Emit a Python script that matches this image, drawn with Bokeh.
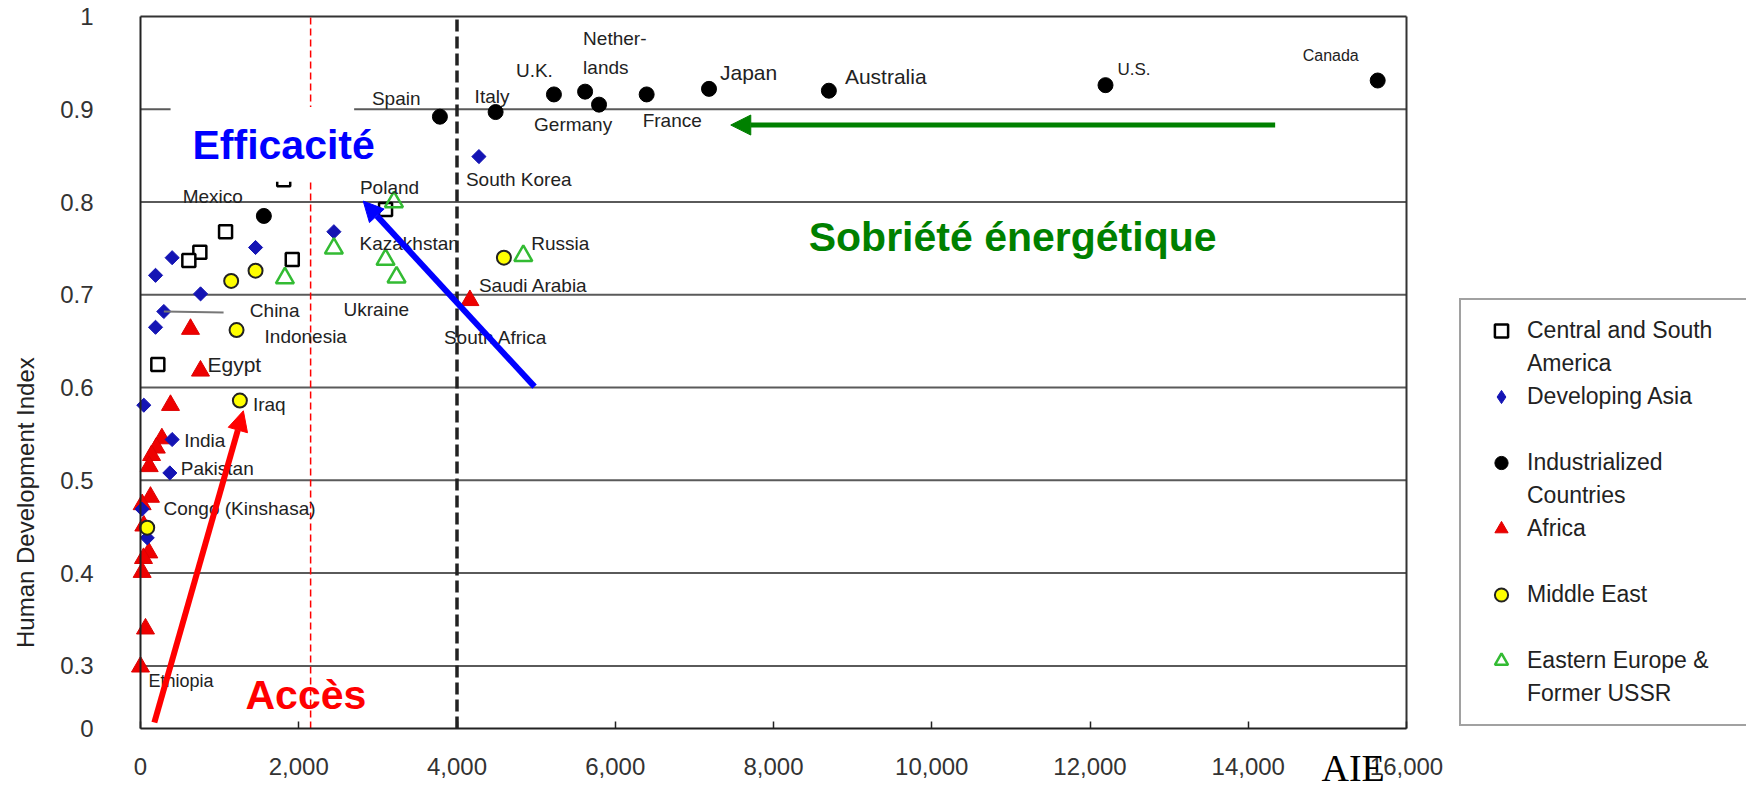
import numpy as np
from bokeh.plotting import figure
from bokeh.models import (ColumnDataSource, Arrow, NormalHead, Label, BoxAnnotation,
                          Legend, LegendItem, FixedTicker, Range1d)
from bokeh.embed import file_html
from bokeh.resources import INLINE
from bokeh.core.properties import value

# ---------------- data (x: energy per capita, y: Human Development Index) ----------------
csa_x = [1810, 1075, 750, 611, 1918, 219, 3097]
csa_y = [0.824, 0.768, 0.746, 0.737, 0.738, 0.625, 0.792]
csa_names = ["Mexico", "", "", "", "", "", ""]

asia_x = [4277, 2444, 1454, 400, 190, 759, 295, 190, 42, 400, 371, 85, 20]
asia_y = [0.849, 0.768, 0.751, 0.740, 0.721, 0.701, 0.682, 0.665, 0.581, 0.544, 0.508, 0.438, 0.469]
asia_names = ["South Korea", "", "", "", "", "", "China", "Indonesia", "", "India", "Pakistan", "", ""]

ind_x = [1559, 3784, 4488, 5225, 5619, 5795, 6397, 7185, 8700, 12196, 15636]
ind_y = [0.785, 0.892, 0.897, 0.916, 0.919, 0.905, 0.916, 0.922, 0.920, 0.926, 0.931]
ind_names = ["", "Spain", "Italy", "U.K.", "Netherlands", "Germany", "France", "Japan",
             "Australia", "U.S.", "Canada"]

afr_x = [632, 758, 379, 4163, 270, 200, 140, 110, 126, 21, 42, 105, 38, 21, 63, 0]
afr_y = [0.663, 0.618, 0.581, 0.694, 0.545, 0.535, 0.527, 0.515, 0.482, 0.474, 0.451,
         0.422, 0.416, 0.401, 0.340, 0.299]
afr_names = ["", "Egypt", "", "South Africa", "", "", "", "", "Congo (Kinshasa)", "", "", "",
             "", "", "", "Ethiopia"]

me_x = [4593, 1146, 1454, 1214, 1256, 85]
me_y = [0.740, 0.715, 0.726, 0.662, 0.586, 0.449]
me_names = ["Saudi Arabia", "", "", "", "Iraq", ""]

ee_x = [4838, 3203, 2444, 3097, 3236, 1825]
ee_y = [0.742, 0.800, 0.750, 0.738, 0.719, 0.718]
ee_names = ["Russia", "Poland", "", "Kazakhstan", "Ukraine", ""]

x_ticks = [0, 2000, 4000, 6000, 8000, 10000, 12000, 14000, 16000]
x_tick_labels = ["0", "2,000", "4,000", "6,000", "8,000", "10,000", "12,000", "14,000", "16,000"]
y_ticks = [0.233, 0.3, 0.4, 0.5, 0.6, 0.7, 0.8, 0.9, 1.0]
y_tick_labels = ["0", "0.3", "0.4", "0.5", "0.6", "0.7", "0.8", "0.9", "1"]
grid_levels = [0.3, 0.4, 0.5, 0.6, 0.7, 0.8, 0.9]

access_threshold = 2150
sobriety_threshold = 4000

# ---------------- label placement (pixel offsets from the point, font size) ----------------
label_style = {
    "Mexico": [("Mexico", -101, 17, 19)],
    "Spain": [("Spain", -68, -18, 19)],
    "Italy": [("Italy", -21, -16, 19)],
    "U.K.": [("U.K.", -38, -24, 19)],
    "Netherlands": [("Nether-", -2, -53, 19), ("lands", -2, -24, 19)],
    "Germany": [("Germany", -65, 20, 19)],
    "France": [("France", -4, 26, 19)],
    "Japan": [("Japan", 11, -16, 21)],
    "Australia": [("Australia", 16, -14, 21)],
    "U.S.": [("U.S.", 12, -16, 17)],
    "Canada": [("Canada", -75, -25, 16)],
    "South Korea": [("South Korea", -13, 23, 19)],
    "China": [("China", 86, -1, 19)],
    "Indonesia": [("Indonesia", 109, 9, 19)],
    "India": [("India", 12, 1, 19)],
    "Pakistan": [("Pakistan", 11, -4, 19)],
    "Egypt": [("Egypt", 7, -6, 21)],
    "South Africa": [("South Africa", -26, 37, 19)],
    "Congo (Kinshasa)": [("Congo (Kinshasa)", 13, 11, 19)],
    "Ethiopia": [("Ethiopia", 8, 14, 18)],
    "Saudi Arabia": [("Saudi Arabia", -25, 28, 19)],
    "Iraq": [("Iraq", 13, 4, 19)],
    "Russia": [("Russia", 8, -12, 19)],
    "Poland": [("Poland", -34, -15, 19)],
    "Kazakhstan": [("Kazakhstan", -26, -16, 19)],
    "Ukraine": [("Ukraine", -53, 32, 19)],
}

FONT = "Liberation Sans"

# ---------------- page geometry: the frame fills the canvas, the plot box is drawn inside ----
W, H = 1746, 792
BOX_L, BOX_R, BOX_T, BOX_B = 140, 1406, 16, 728          # plot box in canvas pixels
X0, X1 = x_ticks[0], x_ticks[-1]                          # data extent of the box
Y0, Y1 = 0.2325, 1.0
kx = (BOX_R - BOX_L) / (X1 - X0)
ky = (BOX_B - BOX_T) / (Y1 - Y0)
x_range = Range1d(X0 - BOX_L / kx, X1 + (W - BOX_R) / kx)
y_range = Range1d(Y0 - (H - BOX_B) / ky, Y1 + BOX_T / ky)

p = figure(width=W, height=H, x_range=x_range, y_range=y_range,
           output_backend="svg", toolbar_location=None,
           min_border_left=0, min_border_right=0, min_border_top=0, min_border_bottom=0,
           background_fill_color="white", border_fill_color="white")
p.outline_line_color = None
p.xgrid.visible = False
p.ygrid.visible = False

p.xaxis.fixed_location = Y0
p.xaxis.bounds = (X0, X1)
p.xaxis.ticker = FixedTicker(ticks=x_ticks)
p.xaxis.major_label_overrides = dict(zip(x_ticks, x_tick_labels))
p.xaxis.major_tick_in = 7
p.xaxis.major_tick_out = 0
p.xaxis.major_tick_line_width = 1.5
p.xaxis.major_label_standoff = 29
p.yaxis.fixed_location = X0
p.yaxis.bounds = (Y0, Y1)
p.yaxis.ticker = FixedTicker(ticks=y_ticks)
p.yaxis.major_label_overrides = dict(zip(y_ticks, y_tick_labels))
p.yaxis.major_tick_in = 0
p.yaxis.major_tick_out = 0
p.yaxis.major_label_standoff = 47
for ax in (p.xaxis, p.yaxis):
    ax.minor_tick_in = 0
    ax.minor_tick_out = 0
    ax.axis_line_width = 2
    ax.axis_line_color = "#222222"
    ax.major_tick_line_color = "#222222"
    ax.major_label_text_font = FONT
    ax.major_label_text_font_size = "24px"
    ax.major_label_text_color = "#333333"

# horizontal grid lines and the top / right edges of the plot box
p.segment(x0=[X0] * len(grid_levels), y0=grid_levels, x1=[X1] * len(grid_levels), y1=grid_levels,
          line_color="#5a5a5a", line_width=2, level="underlay")
p.segment(x0=[X0, X1], y0=[Y1, Y0], x1=[X1, X1], y1=[Y1, Y1],
          line_color="#333333", line_width=2)

# reference lines
p.segment(x0=[access_threshold], y0=[Y0], x1=[access_threshold], y1=[Y1],
          line_color="red", line_dash="7 4", line_width=1.5)
p.segment(x0=[sobriety_threshold], y0=[Y0], x1=[sobriety_threshold], y1=[Y1],
          line_color="#222222", line_dash="12 5", line_width=3.5)

# series
r_csa = p.scatter(csa_x, csa_y, marker="square", size=13, fill_color="white",
                  line_color="black", line_width=2.5)
r_ind = p.scatter(ind_x, ind_y, marker="circle", size=15, fill_color="black", line_color="black")
r_afr = p.scatter(afr_x, afr_y, marker="triangle", size=18, fill_color="#ee0000",
                  line_color="#dd0000", line_width=1)
r_asia = p.scatter(asia_x, asia_y, marker="square", angle=np.pi / 4, size=10,
                   fill_color="#1414b4", line_color="#1414b4")
r_me = p.scatter(me_x, me_y, marker="circle", size=14, fill_color="#ffff00",
                 line_color="#222222", line_width=2)
r_ee = p.scatter(ee_x, ee_y, marker="triangle", size=18, fill_alpha=0,
                 line_color="#33bb33", line_width=2.5)

# China leader line
ci = asia_names.index("China")
p.segment(x0=[asia_x[ci]], y0=[asia_y[ci]], x1=[asia_x[ci] + 755], y1=[asia_y[ci] - 0.001],
          line_color="#777777", line_width=2)

# country labels
lt, lx, ly, ldx, ldy, lfs = [], [], [], [], [], []
for xs, ys, ns in [(csa_x, csa_y, csa_names), (asia_x, asia_y, asia_names), (ind_x, ind_y, ind_names),
                   (afr_x, afr_y, afr_names), (me_x, me_y, me_names), (ee_x, ee_y, ee_names)]:
    for xv, yv, nm in zip(xs, ys, ns):
        if nm and nm in label_style:
            for txt, dx, dy, fs in label_style[nm]:
                lt.append(txt); lx.append(xv); ly.append(yv)
                ldx.append(dx); ldy.append(dy); lfs.append(f"{fs}px")
lab_src = ColumnDataSource(dict(x=lx, y=ly, text=lt, dx=ldx, dy=ldy, fs=lfs))
p.text(x="x", y="y", text="text", x_offset="dx", y_offset="dy", text_font_size="fs",
       source=lab_src, text_font=value(FONT), text_color="#222222",
       text_baseline="middle", text_align="left")

# white patch behind "Efficacité"
p.add_layout(BoxAnnotation(left=380, right=2700, bottom=0.822, top=0.9025,
                           fill_color="white", fill_alpha=1, line_alpha=0))

# arrows
p.add_layout(Arrow(x_start=175, y_start=0.239, x_end=1300, y_end=0.575,
                   line_color="red", line_width=6,
                   end=NormalHead(size=20, fill_color="red", line_color="red")))
p.add_layout(Arrow(x_start=4980, y_start=0.601, x_end=2815, y_end=0.801,
                   line_color="#0000ff", line_width=6,
                   end=NormalHead(size=20, fill_color="#0000ff", line_color="#0000ff")))
p.add_layout(Arrow(x_start=14340, y_start=0.883, x_end=7460, y_end=0.883,
                   line_color="#008000", line_width=5,
                   end=NormalHead(size=20, fill_color="#008000", line_color="#008000")))

# annotation texts
p.add_layout(Label(x=657, y=0.861, text="Efficacité", text_color="#0000ff",
                   text_font=FONT, text_font_style="bold", text_font_size="41px",
                   text_baseline="middle", text_align="left"))
p.add_layout(Label(x=8445, y=0.762, text="Sobriété énergétique", text_color="#008000",
                   text_font=FONT, text_font_style="bold", text_font_size="41px",
                   text_baseline="middle", text_align="left"))
p.add_layout(Label(x=1327, y=0.269, text="Accès", text_color="#ff0000",
                   text_font=FONT, text_font_style="bold", text_font_size="41px",
                   text_baseline="middle", text_align="left"))
p.add_layout(Label(x=14926, y=0.1894, text="AIE", text_color="black",
                   text_font="Liberation Serif", text_font_size="38px",
                   text_baseline="middle", text_align="left"))
p.add_layout(Label(x=-1453, y=0.476, text="Human Development Index", angle=np.pi / 2,
                   text_color="#222222", text_font=FONT, text_font_size="24px",
                   text_baseline="middle", text_align="center"))

# legend (box running off the page edge as in the original)
nan = [float("nan")]
blank = p.scatter(x=nan, y=nan, size=1, fill_alpha=0, line_alpha=0)
asia_key = p.scatter(x=nan, y=nan, marker="diamond", size=10, fill_color="#1414b4",
                     line_color="#1414b4")
items = [
    LegendItem(label="Central and South", renderers=[r_csa]),
    LegendItem(label="America", renderers=[blank]),
    LegendItem(label="Developing Asia", renderers=[asia_key]),
    LegendItem(label="", renderers=[blank]),
    LegendItem(label="Industrialized", renderers=[r_ind]),
    LegendItem(label="Countries", renderers=[blank]),
    LegendItem(label="Africa", renderers=[r_afr]),
    LegendItem(label="", renderers=[blank]),
    LegendItem(label="Middle East", renderers=[r_me]),
    LegendItem(label="", renderers=[blank]),
    LegendItem(label="Eastern Europe &", renderers=[r_ee]),
    LegendItem(label="Former USSR", renderers=[blank]),
]
LEG_L, LEG_T, PAD, ROW = 1459, 302, 14, 33
leg_h = len(items) * ROW + 2 * PAD
legend = Legend(items=items, location=(LEG_L, H - LEG_T - leg_h), orientation="vertical",
                padding=PAD, spacing=0, margin=0, glyph_width=52, glyph_height=33,
                label_height=ROW, label_width=300, label_standoff=0,
                label_text_font=FONT, label_text_font_size="23px", label_text_color="#222222",
                border_line_color="#444444", border_line_width=2,
                background_fill_color="white", background_fill_alpha=1)
p.add_layout(legend)

open("out.html", "w").write(file_html(p, INLINE))
